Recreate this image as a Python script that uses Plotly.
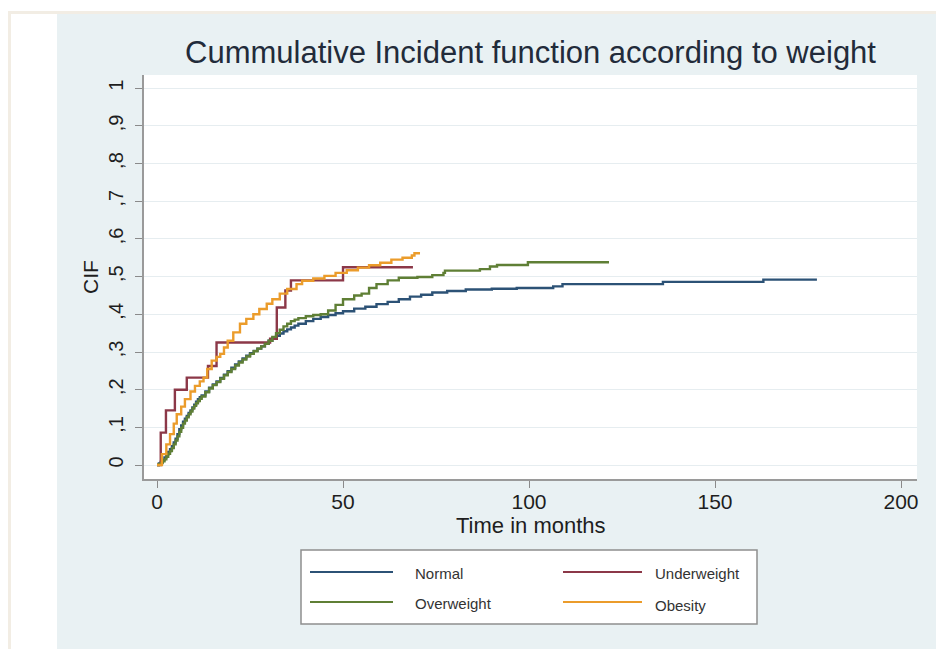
import plotly.graph_objects as go

# ---- data: cumulative incidence by weight group (time in months, CIF) ----
normal_t = [0, 0.5, 1, 1.5, 2, 2.5, 3, 3.5, 4, 4.5, 5, 5.5, 6, 6.5, 7, 7.5, 8, 8.5, 9,
            9.5, 10, 10.5, 11, 11.5, 12, 13, 14, 15, 16, 17, 18, 19, 20, 21, 22, 23, 24,
            25, 26, 27, 28, 29, 30, 31, 32, 33, 34, 35, 36, 37, 38, 40, 42, 44, 46, 48,
            50, 53, 56, 59, 62, 65, 68, 71, 74, 78, 83, 90, 96.7, 106.5, 109, 136, 163,
            177.4]
normal_y = [0, 0.004, 0.008, 0.013, 0.02, 0.027, 0.035, 0.042, 0.05, 0.06, 0.07, 0.082,
            0.095, 0.105, 0.115, 0.123, 0.13, 0.138, 0.145, 0.153, 0.16, 0.168, 0.175,
            0.18, 0.185, 0.195, 0.205, 0.214, 0.222, 0.231, 0.24, 0.249, 0.258, 0.267,
            0.275, 0.283, 0.29, 0.297, 0.303, 0.309, 0.315, 0.322, 0.33, 0.337, 0.343,
            0.349, 0.355, 0.36, 0.365, 0.37, 0.375, 0.382, 0.388, 0.393, 0.398, 0.403,
            0.408, 0.415, 0.42, 0.427, 0.433, 0.44, 0.447, 0.452, 0.458, 0.462, 0.466,
            0.468, 0.47, 0.474, 0.48, 0.486, 0.492, 0.492]

under_t = [0, 1, 2.4, 4.8, 8, 13.7, 16, 30.4, 32.2, 34.5, 36, 50, 68.8]
under_y = [0, 0.086, 0.145, 0.20, 0.232, 0.263, 0.325, 0.335, 0.418, 0.463, 0.49, 0.525, 0.525]

over_t = [0, 0.5, 1, 1.5, 2, 2.5, 3, 3.5, 4, 4.5, 5, 5.5, 6, 6.5, 7, 7.5, 8, 8.5, 9,
          9.5, 10, 10.5, 11, 11.5, 12, 13, 14, 15, 16, 17, 18, 19, 20, 21, 22, 23, 24,
          25, 26, 27, 28, 29, 30, 31, 32, 33, 34, 35, 36, 37, 38, 40, 42, 44, 46, 48,
          50, 53, 55, 57, 59, 62, 65, 70, 74, 77, 77.4, 86.8, 89.5, 91.4, 99.7, 121.5]
over_y = [0, 0.002, 0.005, 0.01, 0.015, 0.022, 0.03, 0.037, 0.045, 0.055, 0.065, 0.076,
          0.088, 0.099, 0.11, 0.118, 0.127, 0.135, 0.142, 0.15, 0.157, 0.164, 0.17,
          0.176, 0.182, 0.193, 0.203, 0.212, 0.22, 0.229, 0.238, 0.247, 0.255, 0.264,
          0.272, 0.28, 0.288, 0.295, 0.302, 0.309, 0.315, 0.322, 0.33, 0.34, 0.35,
          0.359, 0.368, 0.375, 0.382, 0.386, 0.39, 0.395, 0.398, 0.40, 0.41, 0.425,
          0.44, 0.45, 0.455, 0.47, 0.48, 0.49, 0.497, 0.499, 0.504, 0.51, 0.516, 0.52,
          0.527, 0.531, 0.538, 0.538]

obes_t = [0, 1.3, 2.5, 3.5, 4.5, 5.3, 6.5, 7.5, 9, 10.2, 11.5, 12.5, 13.5, 14.7, 16, 17,
          18, 19, 20.5, 22.3, 24, 25.9, 27.5, 29.5, 31, 33, 35, 37.5, 39, 42, 45, 48,
          51, 54, 57, 60, 63, 66, 68.5, 69.2, 70.7]
obes_y = [0, 0.029, 0.055, 0.082, 0.11, 0.135, 0.155, 0.175, 0.195, 0.21, 0.222, 0.232,
          0.255, 0.277, 0.287, 0.295, 0.312, 0.33, 0.352, 0.375, 0.388, 0.40, 0.414,
          0.428, 0.44, 0.455, 0.467, 0.48, 0.489, 0.495, 0.502, 0.51, 0.517, 0.524,
          0.53, 0.537, 0.545, 0.55, 0.556, 0.562, 0.562]

series_names = ["Normal", "Underweight", "Overweight", "Obesity"]
series_colors = ["#2c5276", "#8c3848", "#5f7f35", "#eb9c2b"]

x_ticks = [0, 50, 100, 150, 200]
y_ticks = [0, 0.1, 0.2, 0.3, 0.4, 0.5, 0.6, 0.7, 0.8, 0.9, 1]
y_ticktext = ["0", ",1", ",2", ",3", ",4", ",5", ",6", ",7", ",8", ",9", "1"]

# ---- page geometry (pixels) ----
W, H = 936, 649
PL, PR, PT, PB = 144, 917, 75, 479     # plot area box


def px(x):
    return (x - PL) / (PR - PL)


def py(y):
    return (PB - y) / (PB - PT)


fig = go.Figure()
data = [(normal_t, normal_y), (under_t, under_y), (over_t, over_y), (obes_t, obes_y)]
for (t, y), name, col in zip(data, series_names, series_colors):
    fig.add_trace(go.Scatter(x=t, y=y, mode="lines", name=name,
                             line=dict(color=col, width=2.4, shape="hv"),
                             showlegend=False))

shapes = []
annotations = []

# white strip on the left and top, with a thin beige frame line
shapes.append(dict(type="rect", xref="paper", yref="paper", layer="below",
                   x0=px(0), x1=px(57), y0=py(H + 5), y1=py(14),
                   fillcolor="#ffffff", line=dict(width=0)))
shapes.append(dict(type="rect", xref="paper", yref="paper", layer="below",
                   x0=px(0), x1=px(W + 5), y0=py(14), y1=py(-5),
                   fillcolor="#ffffff", line=dict(width=0)))
shapes.append(dict(type="rect", xref="paper", yref="paper", layer="below",
                   x0=px(8), x1=px(W + 5), y0=py(14), y1=py(11),
                   fillcolor="#f2ede4", line=dict(width=0)))
shapes.append(dict(type="rect", xref="paper", yref="paper", layer="below",
                   x0=px(8), x1=px(11), y0=py(H + 5), y1=py(11),
                   fillcolor="#f2ede4", line=dict(width=0)))

# legend box drawn by hand (wide key lines, two columns)
LX0, LX1, LY0, LY1 = 301, 757, 550, 624
shapes.append(dict(type="rect", xref="paper", yref="paper",
                   x0=px(LX0), x1=px(LX1), y0=py(LY1), y1=py(LY0),
                   fillcolor="#ffffff", line=dict(color="#8f8f8f", width=1.5)))
key_pos = [(310, 393, 413, 572, 573), (563, 642, 653, 572, 573),
           (310, 393, 413, 602, 603), (563, 642, 653, 602, 605)]
for (kx0, kx1, tx, ky, ty), name, col in zip(key_pos, series_names, series_colors):
    shapes.append(dict(type="line", xref="paper", yref="paper",
                       x0=px(kx0), x1=px(kx1), y0=py(ky), y1=py(ky),
                       line=dict(color=col, width=2.2)))
    annotations.append(dict(x=px(tx), y=py(ty), xref="paper", yref="paper",
                            text=name, showarrow=False, xanchor="left", yanchor="middle",
                            font=dict(family="Liberation Sans", size=15, color="#333333")))

# axis titles
annotations.append(dict(x=0.5, y=py(525), xref="paper", yref="paper",
                        text="Time in months", showarrow=False,
                        xanchor="center", yanchor="middle",
                        font=dict(family="Liberation Sans", size=22, color="#1e1e1e")))
annotations.append(dict(x=px(90), y=0.5, xref="paper", yref="paper",
                        text="CIF", showarrow=False, textangle=-90,
                        xanchor="center", yanchor="middle",
                        font=dict(family="Liberation Sans", size=21, color="#1e1e1e")))

fig.update_layout(
    width=W, height=H,
    margin=dict(l=PL, r=W - PR, t=PT, b=H - PB),
    paper_bgcolor="#e9f1f3",
    plot_bgcolor="#ffffff",
    title=dict(text="Cummulative Incident function according to weight",
               x=0.5, xref="paper", y=1 - 52 / H, yref="container",
               xanchor="center", yanchor="middle",
               font=dict(family="Liberation Sans", size=31, color="#222b3a")),
    shapes=shapes,
    annotations=annotations,
    showlegend=False,
    xaxis=dict(range=[-3.5, 204.3], tickvals=x_ticks, ticks="outside", ticklen=7,
               tickcolor="#8a8a8a", tickwidth=1.2, showline=True, linecolor="#9a9a9a",
               linewidth=1.5, showgrid=False, zeroline=False, ticklabelstandoff=-4,
               tickfont=dict(family="Liberation Sans", size=21, color="#1e1e1e")),
    yaxis=dict(range=[-0.037, 1.035], tickvals=y_ticks, ticktext=y_ticktext,
               tickangle=-90, ticks="outside", ticklen=7, tickcolor="#8a8a8a",
               tickwidth=1.2, showline=True, linecolor="#9a9a9a", linewidth=1.5,
               showgrid=True, gridcolor="#e6edf0", gridwidth=1.2, zeroline=False,
               ticklabelstandoff=4,
               tickfont=dict(family="Liberation Sans", size=20, color="#1e1e1e")),
)

fig.write_html("out.html")
